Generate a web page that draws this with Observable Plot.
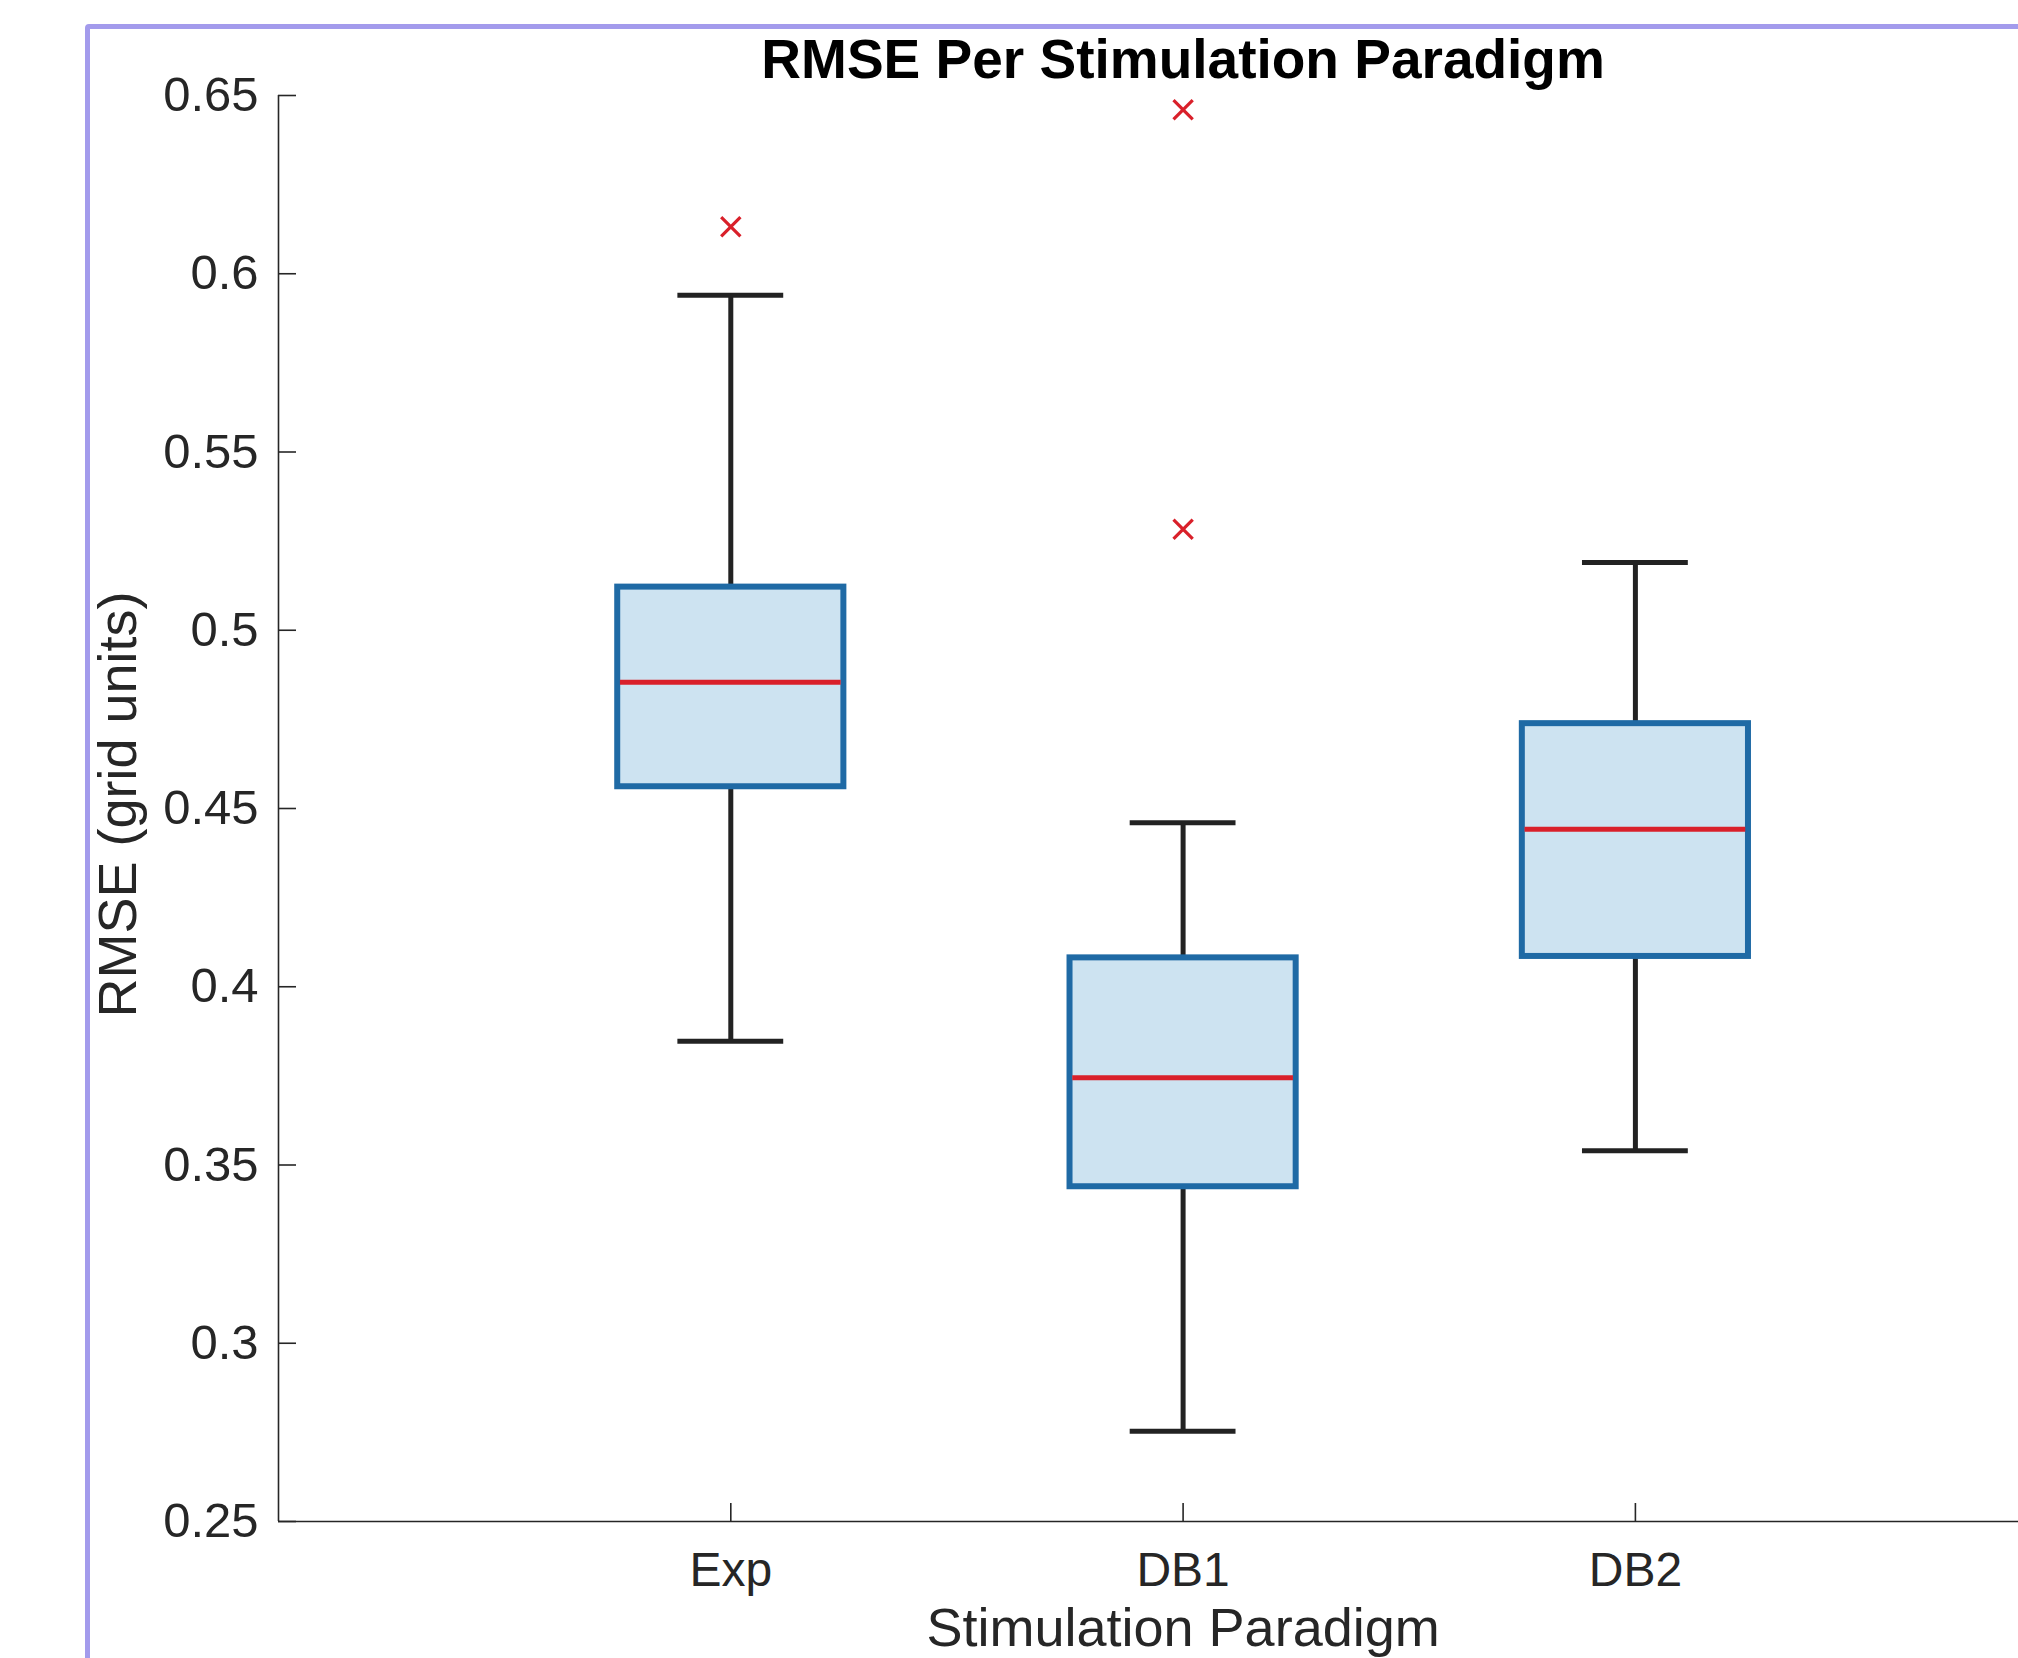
<!DOCTYPE html>
<html>
<head>
<meta charset="utf-8">
<script src="https://cdn.jsdelivr.net/npm/d3@7"></script>
<script src="https://cdn.jsdelivr.net/npm/@observablehq/plot@0.6"></script>
<style>
  html, body { margin: 0; padding: 0; background: #fff; overflow: hidden; }
  #wrap { position: relative; width: 2018px; height: 1658px; overflow: hidden; }
  #frame { position: absolute; left: 85px; top: 24px; width: 3000px; height: 3000px;
           border: 5px solid #a39bec; border-radius: 4px; box-sizing: border-box; pointer-events: none; }
  svg { font-family: "Liberation Sans", Arial, Helvetica, sans-serif; }
</style>
</head>
<body>
<div id="wrap"><div id="chart"></div><div id="frame"></div></div>
<script>
// ---- data ----
const categories = ["Exp", "DB1", "DB2"];
const positions  = [1, 2, 3];
const whiskerLow  = [0.3847, 0.2753, 0.3540];
const q1          = [0.4561, 0.3439, 0.4085];
const median      = [0.4854, 0.3745, 0.4442];
const q3          = [0.5121, 0.4081, 0.4738];
const whiskerHigh = [0.5940, 0.4460, 0.5190];
const outlierGroup = ["Exp", "DB1", "DB1"];
const outlierValue = [0.6132, 0.6460, 0.5283];
const yTicks = [0.25, 0.3, 0.35, 0.4, 0.45, 0.5, 0.55, 0.6, 0.65];
const title = "RMSE Per Stimulation Paradigm";
const xLabel = "Stimulation Paradigm";
const yLabel = "RMSE (grid units)";

// ---- derived tables ----
const boxes = categories.map((c, i) => ({
  cat: c, pos: positions[i], lo: whiskerLow[i], q1: q1[i], med: median[i], q3: q3[i], hi: whiskerHigh[i]
}));
const outliers = outlierGroup.map((g, i) => ({pos: positions[categories.indexOf(g)], v: outlierValue[i]}));

const W = 2018, H = 1658;
const mL = 278, mR = 0, mT = 95, mB = H - 1521;
const pxPerX = 452.3;
const xMax = (W - mL - mR) / pxPerX;   // axis extends past the visible edge
const boxHalf = 0.25, capHalf = 0.117;

const axisColor = "#262626";
const tickLenX = 18 / pxPerX;
const pxPerY = (1521 - 95) / 0.4;
const tickLenY = 18 / pxPerY;

const chart = Plot.plot({
  width: W, height: H,
  marginLeft: mL, marginRight: mR, marginTop: mT, marginBottom: mB,
  style: {fontFamily: "'Liberation Sans', Arial, Helvetica, sans-serif", background: "transparent", overflow: "visible"},
  x: {type: "linear", domain: [0, xMax], axis: null},
  y: {type: "linear", domain: [0.25, 0.65], axis: null},
  marks: [
    // whiskers (vertical)
    Plot.ruleX(boxes, {x: "pos", y1: "q3", y2: "hi", stroke: "#222", strokeWidth: 5}),
    Plot.ruleX(boxes, {x: "pos", y1: "lo", y2: "q1", stroke: "#222", strokeWidth: 5}),
    // whisker caps
    Plot.ruleY(boxes, {y: "hi", x1: d => d.pos - capHalf, x2: d => d.pos + capHalf, stroke: "#222", strokeWidth: 5}),
    Plot.ruleY(boxes, {y: "lo", x1: d => d.pos - capHalf, x2: d => d.pos + capHalf, stroke: "#222", strokeWidth: 5}),
    // boxes
    Plot.rect(boxes, {x1: d => d.pos - boxHalf, x2: d => d.pos + boxHalf, y1: "q1", y2: "q3",
      fill: "#cde3f1", stroke: "#1f6aa5", strokeWidth: 6}),
    // medians
    Plot.ruleY(boxes, {y: "med", x1: d => d.pos - boxHalf + 0.006, x2: d => d.pos + boxHalf - 0.006, stroke: "#d9202a", strokeWidth: 5}),
    // outliers
    Plot.dot(outliers, {x: "pos", y: "v", symbol: "times", r: 8.8, stroke: "#d9202a", strokeWidth: 3.2}),
    // axis lines
    Plot.ruleX([0], {y1: 0.25, y2: 0.65, stroke: axisColor, strokeWidth: 1.6}),
    Plot.ruleY([0.25], {x1: 0, x2: xMax, stroke: axisColor, strokeWidth: 1.6}),
    // inward ticks
    Plot.ruleY(yTicks, {y: d => d, x1: 0, x2: tickLenX, stroke: axisColor, strokeWidth: 1.6}),
    Plot.ruleX(positions, {x: d => d, y1: 0.25, y2: 0.25 + tickLenY, stroke: axisColor, strokeWidth: 1.6}),
    // tick labels
    Plot.text(yTicks, {x: 0, y: d => d, text: d => String(+d.toFixed(2)), textAnchor: "end", dx: -20,
      lineAnchor: "middle", fontSize: 49, fill: axisColor}),
    Plot.text(positions, {x: d => d, y: 0.25, text: (d, i) => categories[i], textAnchor: "middle",
      lineAnchor: "bottom", dy: 64, fontSize: 48, fill: axisColor}),
    // axis labels and title
    Plot.text([xLabel], {x: 2, y: 0.25, text: d => d, textAnchor: "middle", lineAnchor: "bottom",
      dy: 124, fontSize: 54, fill: axisColor}),
    Plot.text([yLabel], {frameAnchor: "left", text: d => d, rotate: -90, textAnchor: "middle",
      lineAnchor: "middle", dx: -160, dy: -4, fontSize: 54, fill: axisColor}),
    Plot.text([title], {x: 2, y: 0.65, text: d => d, textAnchor: "middle", lineAnchor: "bottom",
      dy: -18, fontSize: 55, fontWeight: "bold", fill: "#000"})
  ]
});
document.getElementById("chart").appendChild(chart);
</script>
</body>
</html>
